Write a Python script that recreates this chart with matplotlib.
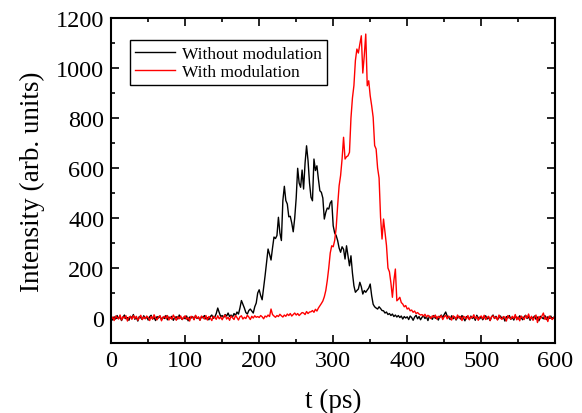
import numpy as np
import matplotlib.pyplot as plt
from matplotlib.ticker import MultipleLocator

plt.rcParams['font.family'] = ['Liberation Serif', 'DejaVu Serif']

# time axis, 2 ps steps
t = np.arange(0, 601, 2)

without_mod = [
    3, -8, 5, -4, 10, -2, 6, -10, 4, 12, -3, 2, -9, 7, 0, 14, -5, 3, -12, 6, 1, -6, 9, -2, 4,
    -8, 5, 11, -4, 2, -10, 6, 0, 8, -6, 3, -2, 10, -7, 4, -1, 7, -9, 2, 5, -4, 12, 1, -6, 3,
    -3, 8, -11, 4, 0, 6, -5, 9, -2, 3, -8, 5, 1, 10, -4, 2, -7, 6, 12, -1, 4, 18, 40, 22, 6,
    10, 2, 14, 8, 20, 6, 12, 4, 18, 10, 24, 16, 40, 70, 55, 40, 22, 16, 30, 36, 28, 20, 45, 60, 100,
    113, 90, 73, 120, 170, 225, 276, 255, 232, 280, 324, 318, 330, 403, 340, 310, 470, 527, 470, 456, 405, 407, 380, 345, 400,
    480, 599, 540, 523, 592, 516, 620, 689, 630, 540, 483, 469, 636, 590, 609, 556, 509, 503, 480, 396, 423, 440, 436, 460, 469,
    369, 340, 330, 310, 280, 263, 285, 275, 236, 289, 250, 209, 249, 180, 129, 103, 110, 116, 143, 125, 96, 110, 103, 112, 120,
    136, 89, 55, 45, 40, 36, 45, 38, 30, 29, 20, 24, 14, 18, 10, 16, 6, 12, 4, 10, 2, 8, -4, 6, 0,
    5, -6, 8, 2, -9, 4, 11, -3, 6, -7, 3, 9, -2, 5, -10, 7, 1, -5, 10, -1, 4, -8, 6, 12, 2,
    14, 24, 8, 3, -6, 9, -3, 5, -8, 2, 7, -4, 10, 0, -11, 6, 3, -5, 8, -2, 4, -9, 11, 1, -3,
    6, -7, 2, 9, -4, 3, -10, 5, 12, -2, 7, -6, 1, 8, -3, 4, -12, 6, 0, 10, -5, 3, -8, 7, 2,
    -4, 9, 1, -7, 5, 11, -2, 6, -9, 3, 0, 8, -5, 4, -11, 7, 2, -3, 10, -6, 5, -1, 8, -4, 3,
    -2,
]

# measured intensity with modulation
with_mod = [
    -6, 4, -10, 8, 2, -4, 12, -8, 5, -1, 9, -12, 3, 6, -5, 10, -2, 7, -9, 1, 11, -6, 4, -3, 8,
    2, -10, 6, -4, 13, 0, -7, 5, 9, -11, 3, 7, -2, 10, -8, 4, -5, 12, 1, -9, 6, -3, 8, -6, 3,
    9, -5, 2, -12, 7, 4, -7, 11, -1, 5, -9, 8, 3, -4, 10, -8, 6, 0, -10, 7, 2, -5, 9, -3, 4,
    -7, 6, 12, -4, 3, -9, 8, 1, -6, 10, 2, -8, 5, 9, -4, 3, -2, 11, 4, -6, 7, 0, 9, 3, 6,
    2, 10, 5, -3, 8, 4, 12, 6, 36, 14, 8, 3, 10, 6, 15, 9, 4, 12, 7, 16, 10, 18, 8, 14, 20,
    12, 18, 10, 16, 22, 20, 14, 26, 18, 24, 25, 30, 23, 35, 28, 40, 49, 58, 68, 85, 110, 150, 200, 260, 289,
    285, 310, 360, 449, 529, 570, 636, 723, 636, 645, 649, 663, 800, 880, 930, 1030, 1076, 1060, 1096, 1129, 980, 1050, 1136, 929, 949,
    889, 849, 803, 690, 676, 600, 560, 403, 316, 396, 343, 290, 200, 185, 140, 83, 150, 196, 69, 75, 83, 62, 56, 45, 50,
    36, 40, 29, 32, 23, 28, 18, 22, 16, 12, 14, 8, 15, 4, 11, 6, -2, 9, 3, 12, -4, 7, 1, 10, -6,
    5, 11, -3, 8, 2, -8, 9, 4, -5, 12, 0, 6, -10, 7, 3, -4, 10, -7, 5, 1, 13, -2, 6, -9, 4,
    8, -3, 11, -6, 2, 7, -10, 5, 9, -1, 4, -8, 12, 0, -5, 6, 3, -12, 10, 1, -4, 7, -2, 14, -7,
    5, -11, 8, 2, -6, 10, 0, 16, -4, 7, -9, 3, 12, -18, 6, -3, 9, 20, -5, 4, -14, 8, 1, -6, 3,
    5,
]

fig = plt.figure(figsize=(5.82, 4.14), dpi=100)
ax = fig.add_axes([0.191, 0.169, 0.763, 0.785])

ax.plot(t, without_mod, color='black', lw=1.0, label='Without modulation')
ax.plot(t, with_mod, color='red', lw=1.0, label='With modulation')

ax.set_xlim(0, 600)
ax.set_ylim(-100, 1200)
ax.xaxis.set_major_locator(MultipleLocator(100))
ax.xaxis.set_minor_locator(MultipleLocator(50))
ax.yaxis.set_major_locator(MultipleLocator(200))
ax.yaxis.set_minor_locator(MultipleLocator(100))
ax.tick_params(which='both', direction='in', top=True, right=True, labelsize=17.5, width=1.2)
ax.tick_params(which='major', length=6, pad=5)
ax.tick_params(which='minor', length=3)
for s in ax.spines.values():
    s.set_linewidth(1.5)

ax.set_xlabel('t (ps)', fontsize=19.5, labelpad=12)
ax.set_ylabel('Intensity (arb. units)', fontsize=19.5, labelpad=8)

leg = ax.legend(loc='upper left', bbox_to_anchor=(0.022, 0.958), fontsize=12.5,
                fancybox=False, framealpha=1, edgecolor='black',
                handlelength=2.3, borderpad=0.3, labelspacing=0.1, handletextpad=0.4)
leg.get_frame().set_linewidth(1.0)

fig.savefig('out.png')
